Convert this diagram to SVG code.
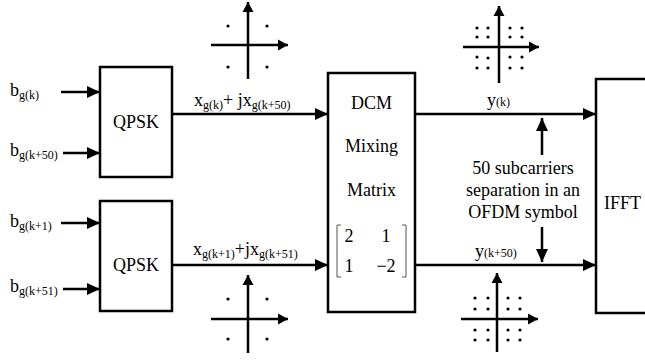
<svg xmlns="http://www.w3.org/2000/svg" width="645" height="360" viewBox="0 0 645 360">
<defs>
<style>
.t{font-size:18px}
.s{font-size:12px}
.box{fill:#fff;stroke:#000;stroke-width:2.5}
.ln{stroke:#000;stroke-width:2.5;fill:none}
.ax{stroke:#000;stroke-width:2.5;fill:none}
.br{stroke:#555;stroke-width:1;fill:none}
</style>
<marker id="ah" markerUnits="userSpaceOnUse" markerWidth="14" markerHeight="12" refX="13" refY="6" orient="auto">
<path d="M0,0 L13,6 L0,12 Z" fill="#000"/>
</marker>
<marker id="ah2" markerUnits="userSpaceOnUse" markerWidth="11" markerHeight="12" refX="10" refY="6" orient="auto">
<path d="M0,0.5 L10,6 L0,11.5 Z" fill="#000"/>
</marker>
</defs>
<rect width="645" height="360" fill="#fff"/>

<g id="connectors">
<line class="ln" x1="61" y1="92" x2="100" y2="92" marker-end="url(#ah)"/>
<line class="ln" x1="63" y1="153" x2="100" y2="153" marker-end="url(#ah)"/>
<line class="ln" x1="61" y1="223" x2="100" y2="223" marker-end="url(#ah)"/>
<line class="ln" x1="63" y1="289" x2="100" y2="289" marker-end="url(#ah)"/>
<line class="ln" x1="172" y1="114" x2="328" y2="114" marker-end="url(#ah)"/>
<line class="ln" x1="172" y1="265" x2="328" y2="265" marker-end="url(#ah)"/>
<line class="ln" x1="415" y1="114" x2="596" y2="114" marker-end="url(#ah)"/>
<line class="ln" x1="415" y1="265" x2="596" y2="265" marker-end="url(#ah)"/>
<line class="ln" x1="542" y1="155" x2="542" y2="118" marker-end="url(#ah)"/>
<line class="ln" x1="542" y1="227" x2="542" y2="262" marker-end="url(#ah)"/>
</g>

<g font-family="'Liberation Serif', 'DejaVu Serif', serif" fill="#000">
<g id="inputs">
<text x="10" y="96" class="t">b<tspan class="s" dy="3">g(k)</tspan></text>
<text x="10" y="156" class="t">b<tspan class="s" dy="3">g(k+50)</tspan></text>
<text x="10" y="227" class="t">b<tspan class="s" dy="3">g(k+1)</tspan></text>
<text x="10" y="292" class="t">b<tspan class="s" dy="3">g(k+51)</tspan></text>
</g>

<g id="qpsk1">
<rect class="box" x="100" y="67" width="72" height="110"/>
<text x="136" y="128" class="t" text-anchor="middle">QPSK</text>
</g>
<g id="qpsk2">
<rect class="box" x="100" y="201" width="72" height="110"/>
<text x="136" y="271" class="t" text-anchor="middle">QPSK</text>
</g>

<g id="labels">
<text x="194" y="106" class="t">x<tspan class="s" dy="3">g(k)</tspan><tspan dy="-3">+ j</tspan>x<tspan class="s" dy="3">g(k+50)</tspan></text>
<text x="193" y="255" class="t">x<tspan class="s" dy="3">g(k+1)</tspan><tspan dy="-3">+j</tspan>x<tspan class="s" dy="3">g(k+51)</tspan></text>
<text x="487" y="106" class="t">y<tspan class="s">(k)</tspan></text>
<text x="475" y="257" class="t">y<tspan class="s">(k+50)</tspan></text>
</g>

<g id="dcm">
<rect class="box" x="328" y="73" width="87" height="239"/>
<text x="371.5" y="109" class="t" text-anchor="middle">DCM</text>
<text x="371.5" y="152" class="t" text-anchor="middle">Mixing</text>
<text x="371.5" y="196" class="t" text-anchor="middle">Matrix</text>
<path class="br" d="M341,225 H337 V277 H341"/>
<path class="br" d="M402,225 H406 V277 H402"/>
<text x="349" y="242" class="t" text-anchor="middle">2</text>
<text x="386" y="242" class="t" text-anchor="middle">1</text>
<text x="349" y="272" class="t" text-anchor="middle">1</text>
<text x="386" y="272" class="t" text-anchor="middle">−2</text>
</g>

<g id="ifft">
<path class="box" d="M648,79 H596 V313 H648"/>
<text x="604" y="209" class="t">IFFT</text>
</g>

<g id="note">
<text x="523" y="174" class="t" text-anchor="middle">50 subcarriers</text>
<text x="523" y="196" class="t" text-anchor="middle">separation in an</text>
<text x="523" y="218" class="t" text-anchor="middle">OFDM symbol</text>
</g>
</g>

<g id="const1">
<line class="ax" x1="248" y1="79" x2="248" y2="2" marker-end="url(#ah2)"/>
<line class="ax" x1="211" y1="45" x2="288" y2="45" marker-end="url(#ah2)"/>
<g fill="#000"><circle cx="228" cy="26" r="1.6"/><circle cx="267" cy="26" r="1.6"/><circle cx="228" cy="67" r="1.6"/><circle cx="267" cy="67" r="1.6"/></g>
</g>
<g id="const2">
<line class="ax" x1="248" y1="353" x2="248" y2="275" marker-end="url(#ah2)"/>
<line class="ax" x1="211" y1="319" x2="288" y2="319" marker-end="url(#ah2)"/>
<g fill="#000"><circle cx="228" cy="299" r="1.6"/><circle cx="267" cy="299" r="1.6"/><circle cx="228" cy="339" r="1.6"/><circle cx="267" cy="339" r="1.6"/></g>
</g>
<g id="const3">
<line class="ax" x1="499" y1="83" x2="499" y2="6" marker-end="url(#ah2)"/>
<line class="ax" x1="463" y1="47" x2="539" y2="47" marker-end="url(#ah2)"/>
<g fill="#000">
<circle cx="477" cy="28" r="1.6"/><circle cx="488" cy="28" r="1.6"/><circle cx="510" cy="28" r="1.6"/><circle cx="522" cy="28" r="1.6"/>
<circle cx="477" cy="37" r="1.6"/><circle cx="488" cy="37" r="1.6"/><circle cx="510" cy="37" r="1.6"/><circle cx="522" cy="37" r="1.6"/>
<circle cx="477" cy="57" r="1.6"/><circle cx="488" cy="58" r="1.6"/><circle cx="510" cy="57" r="1.6"/><circle cx="522" cy="57" r="1.6"/>
<circle cx="477" cy="68" r="1.6"/><circle cx="488" cy="68" r="1.6"/><circle cx="510" cy="68" r="1.6"/><circle cx="522" cy="68" r="1.6"/>
</g>
</g>
<g id="const4">
<line class="ax" x1="497" y1="352" x2="497" y2="273" marker-end="url(#ah2)"/>
<line class="ax" x1="461" y1="319" x2="538" y2="319" marker-end="url(#ah2)"/>
<g fill="#000">
<circle cx="475" cy="298" r="1.6"/><circle cx="488" cy="298" r="1.6"/><circle cx="508" cy="298" r="1.6"/><circle cx="520" cy="298" r="1.6"/>
<circle cx="475" cy="309" r="1.6"/><circle cx="488" cy="309" r="1.6"/><circle cx="508" cy="309" r="1.6"/><circle cx="520" cy="309" r="1.6"/>
<circle cx="475" cy="330" r="1.6"/><circle cx="488" cy="330" r="1.6"/><circle cx="508" cy="330" r="1.6"/><circle cx="520" cy="330" r="1.6"/>
<circle cx="475" cy="340" r="1.6"/><circle cx="488" cy="340" r="1.6"/><circle cx="508" cy="340" r="1.6"/><circle cx="520" cy="340" r="1.6"/>
</g>
</g>
</svg>
